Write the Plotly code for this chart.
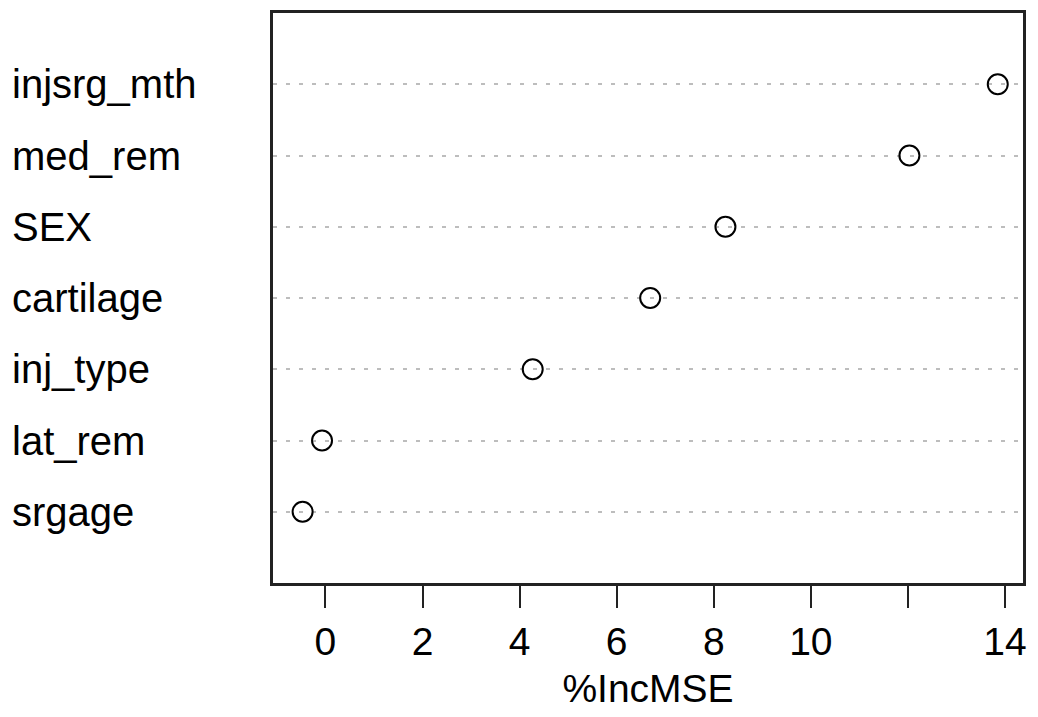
import plotly.graph_objects as go

variables = ["srgage", "lat_rem", "inj_type", "cartilage", "SEX", "med_rem", "injsrg_mth"]
inc_mse = [-0.47, -0.07, 4.27, 6.69, 8.24, 12.03, 13.85]
x_tick_vals = [0, 2, 4, 6, 8, 10, 12, 14]
x_tick_text = ["0", "2", "4", "6", "8", "10", "", "14"]
x_title = "%IncMSE"

rows = list(range(1, len(variables) + 1))
FONT = "Liberation Sans, Arial, sans-serif"

fig = go.Figure()
fig.add_trace(go.Scatter(
    x=inc_mse, y=rows, mode="markers",
    marker=dict(symbol="circle-open", size=20, color="black", line=dict(width=2, color="black")),
    showlegend=False, hoverinfo="skip", cliponaxis=False,
))

for name, r in zip(variables, rows):
    fig.add_annotation(
        x=0, xref="paper", xshift=-263, y=r, yref="y",
        text=name, showarrow=False, xanchor="left", yanchor="middle",
        font=dict(family=FONT, size=40, color="black"),
    )

fig.update_layout(
    width=1030, height=709,
    margin=dict(l=265, r=15, t=2, b=134),
    paper_bgcolor="white", plot_bgcolor="white",
    font=dict(family=FONT, size=39, color="black"),
    xaxis=dict(
        range=[-1.08, 14.37], tickvals=x_tick_vals, ticktext=x_tick_text,
        ticks="outside", ticklen=22, tickwidth=2, tickcolor="#222",
        showgrid=False, zeroline=False,
        showline=True, linewidth=2.5, linecolor="#222", mirror=True,
        title=dict(text=x_title, font=dict(family=FONT, size=39), standoff=14),
        tickfont=dict(family=FONT, size=39),
    ),
    yaxis=dict(
        range=[0, 8], tickvals=rows, showticklabels=False, ticks="",
        showgrid=True, gridcolor="#bdbdbd", gridwidth=1.5, griddash="4px,9px",
        zeroline=False,
        showline=True, linewidth=2.5, linecolor="#222", mirror=True,
    ),
)

fig.write_html("out.html")
